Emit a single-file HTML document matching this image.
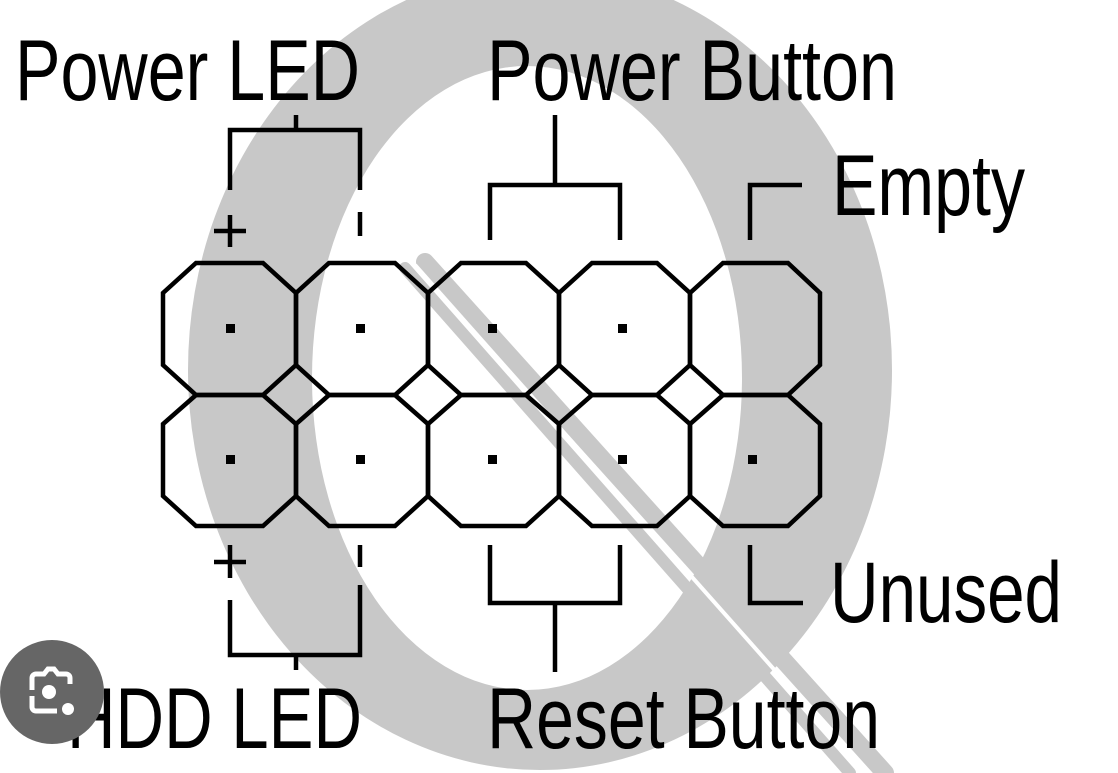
<!DOCTYPE html>
<html><head><meta charset="utf-8"><style>html,body{margin:0;padding:0;background:#fff;overflow:hidden}svg{display:block}</style></head>
<body>
<svg width="1118" height="773" viewBox="0 0 1118 773" xmlns="http://www.w3.org/2000/svg">
<rect width="1118" height="773" fill="#fff"/>
<path fill="#c8c8c8" fill-rule="evenodd" d="M188,370 a352,400 0 1,0 704,0 a352,400 0 1,0 -704,0 Z M312,378 a215,312 0 1,0 430,0 a215,312 0 1,0 -430,0 Z"/>
<g stroke="#c8c8c8" stroke-linecap="round">
<line x1="405" y1="268" x2="850" y2="773" stroke-width="12"/>
<line x1="425" y1="262" x2="885" y2="773" stroke-width="18"/>
</g>
<line x1="415" y1="265" x2="866" y2="773" stroke="#fff" stroke-width="4"/>
<g fill="none" stroke="#000" stroke-width="4.5" stroke-linejoin="miter">
<polygon points="196,263 263,263 296,293 296,365 263,395 196,395 163,365 163,293"/>
<polygon points="329,263 395,263 428,293 428,365 395,395 329,395 296,365 296,293"/>
<polygon points="461,263 526,263 559,293 559,365 526,395 461,395 428,365 428,293"/>
<polygon points="592,263 657,263 690,293 690,365 657,395 592,395 559,365 559,293"/>
<polygon points="723,263 788,263 820,293 820,365 788,395 723,395 690,365 690,293"/>
<g transform="translate(0,131)">
<polygon points="196,264 263,264 296,293 296,365 263,395 196,395 163,365 163,293"/>
<polygon points="329,264 395,264 428,293 428,365 395,395 329,395 296,365 296,293"/>
<polygon points="461,264 526,264 559,293 559,365 526,395 461,395 428,365 428,293"/>
<polygon points="592,264 657,264 690,293 690,365 657,395 592,395 559,365 559,293"/>
<polygon points="723,264 788,264 820,293 820,365 788,395 723,395 690,365 690,293"/>
</g>
<polyline points="230,190 230,130 360,130 360,190"/>
<line x1="296" y1="115" x2="296" y2="130"/>
<line x1="360" y1="212" x2="360" y2="236"/>
<line x1="230" y1="215" x2="230" y2="247"/>
<line x1="214" y1="231" x2="246" y2="231"/>
<polyline points="490,240 490,185 620,185 620,240"/>
<line x1="555" y1="115" x2="555" y2="185"/>
<polyline points="750,240 750,185 802,185"/>
<line x1="230" y1="545" x2="230" y2="578"/>
<line x1="214" y1="562" x2="246" y2="562"/>
<polyline points="230,600 230,655 360,655 360,585"/>
<line x1="360" y1="545" x2="360" y2="567"/>
<line x1="296" y1="655" x2="296" y2="670"/>
<polyline points="490,545 490,603 620,603 620,545"/>
<line x1="555" y1="603" x2="555" y2="672"/>
<polyline points="750,545 750,603 803,603"/>
</g>
<g fill="#000">
<rect x="226" y="324" width="9" height="9"/><rect x="356" y="324" width="9" height="9"/><rect x="488" y="324" width="9" height="9"/><rect x="618" y="324" width="9" height="9"/>
<rect x="226" y="455" width="9" height="9"/><rect x="356" y="455" width="9" height="9"/><rect x="488" y="455" width="9" height="9"/><rect x="618" y="455" width="9" height="9"/><rect x="748" y="455" width="9" height="9"/>
</g>
<g font-family="Liberation Sans, Arial, sans-serif" font-size="86" fill="#000">
<text x="15" y="100" textLength="345" lengthAdjust="spacingAndGlyphs">Power LED</text>
<text x="487" y="100" textLength="410" lengthAdjust="spacingAndGlyphs">Power Button</text>
<text x="832" y="215" textLength="193" lengthAdjust="spacingAndGlyphs">Empty</text>
<text x="830" y="622" textLength="232" lengthAdjust="spacingAndGlyphs">Unused</text>
<text x="67" y="748" textLength="295" lengthAdjust="spacingAndGlyphs">HDD LED</text>
<text x="487" y="748" textLength="393" lengthAdjust="spacingAndGlyphs">Reset Button</text>
</g>
<circle cx="52" cy="692" r="52" fill="#666"/>
<g fill="none" stroke="#fff" stroke-width="5">
<path d="M32,690 v-12 a4,4 0 0 1 4,-4 h8 l4,-5 h6 l4,5 h8 a4,4 0 0 1 4,4 v6"/>
<path d="M32,696 v11 a4,4 0 0 0 4,4 h21"/>
</g>
<circle cx="49" cy="692" r="7" fill="#fff"/>
<circle cx="68" cy="709" r="6" fill="#fff"/>
</svg>
</body></html>
